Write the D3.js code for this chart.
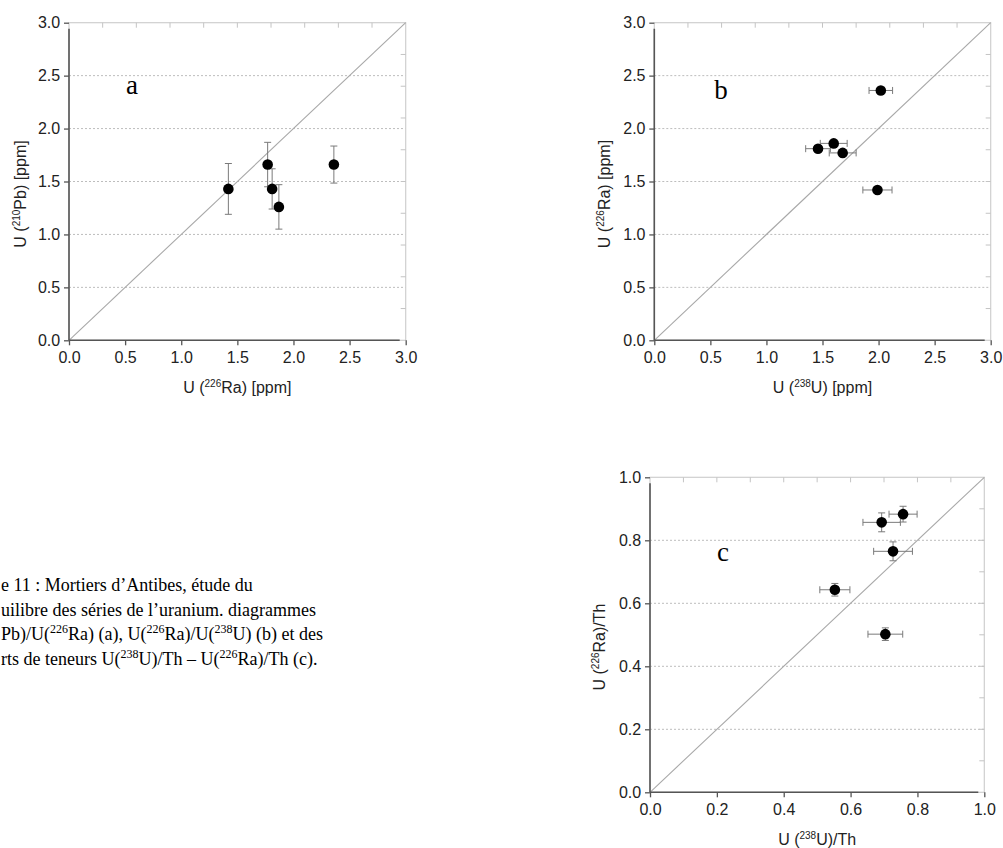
<!DOCTYPE html>
<html><head><meta charset="utf-8">
<script src="https://cdn.jsdelivr.net/npm/d3@7"></script>
<style>
html,body{margin:0;padding:0;background:#fff;overflow:hidden}
svg{display:block}
</style></head>
<body>
<svg id="chart" width="1003" height="848"></svg>
<script>
// ---------- data ----------
// Panel a : U(226Ra) vs U(210Pb), vertical error bars
const aX = [1.42, 1.77, 1.81, 1.87, 2.36];
const aY = [1.43, 1.66, 1.43, 1.26, 1.66];
const aYErr = [0.24, 0.21, 0.19, 0.21, 0.175];
// Panel b : U(238U) vs U(226Ra), horizontal error bars
const bX = [2.02, 1.60, 1.46, 1.68, 1.99];
const bY = [2.36, 1.86, 1.81, 1.77, 1.42];
const bXErr = [0.105, 0.12, 0.11, 0.12, 0.13];
// Panel c : U(238U)/Th vs U(226Ra)/Th, both error bars
const cX = [0.757, 0.693, 0.727, 0.553, 0.704];
const cY = [0.883, 0.857, 0.765, 0.643, 0.502];
const cXErr = [0.042, 0.056, 0.058, 0.045, 0.052];
const cYErr = [0.025, 0.03, 0.03, 0.02, 0.02];
// ticks
const ppmTicks = [0, 0.5, 1.0, 1.5, 2.0, 2.5, 3.0];
const ppmMinorTicks = [0.3, 0.6, 0.9, 1.2, 1.5, 1.8, 2.1, 2.4, 2.7];
const ratioTicks = [0, 0.2, 0.4, 0.6, 0.8, 1.0];
const ratioMinorTicks = [0.1, 0.2, 0.3, 0.4, 0.5, 0.6, 0.7, 0.8, 0.9];
// caption (the part visible in the picture; its left side is cropped in the source)
const captionLines = [
  [["e 11 : Mortiers d\u2019Antibes, \u00e9tude du", false]],
  [["uilibre des s\u00e9ries de l\u2019uranium. diagrammes", false]],
  [["Pb)/U(", false], ["226", true], ["Ra) (a), U(", false], ["226", true], ["Ra)/U(", false], ["238", true], ["U) (b) et des", false]],
  [["rts de teneurs U(", false], ["238", true], ["U)/Th \u2013 U(", false], ["226", true], ["Ra)/Th (c).", false]]
];

const svg = d3.select("#chart");
const sans = "'Liberation Sans', Arial, sans-serif";
const serif = "'Liberation Serif', 'Times New Roman', serif";

function richText(sel, parts, baseSize, supSize) {
  parts.forEach(([t, sup], i) => {
    const ts = sel.append("tspan").text(t);
    if (sup) {
      ts.attr("font-size", supSize).attr("dy", -baseSize * 0.38);
    } else if (i > 0 && parts[i - 1][1]) {
      ts.attr("dy", baseSize * 0.38);
    }
  });
}

function panel(cfg) {
  const x = d3.scaleLinear().domain([0, cfg.max]).range(cfg.xr);
  const y = d3.scaleLinear().domain([0, cfg.max]).range(cfg.yr);
  const g = svg.append("g");
  const [x0, x1] = cfg.xr, [y0, y1] = cfg.yr;

  // grid
  g.selectAll(".grid").data(cfg.ticks.filter(t => t > 0 && t < cfg.max)).join("line")
    .attr("x1", x0).attr("x2", x1).attr("y1", d => y(d)).attr("y2", d => y(d))
    .attr("stroke", "#bdbdbd").attr("stroke-width", 1).attr("stroke-dasharray", "2,2");

  // light frame (top/right)
  g.append("rect").attr("x", x0).attr("y", y1).attr("width", x1 - x0).attr("height", y0 - y1)
    .attr("fill", "none").attr("stroke", "#cfcfcf").attr("stroke-width", 1.2);
  // top / right minor ticks (inward)
  g.selectAll(".tt").data(cfg.minor).join("line")
    .attr("x1", d => x(d)).attr("x2", d => x(d)).attr("y1", y1).attr("y2", y1 + 5)
    .attr("stroke", "#c4c4c4").attr("stroke-width", 1);
  g.selectAll(".rt").data(cfg.minor).join("line")
    .attr("y1", d => y(d)).attr("y2", d => y(d)).attr("x1", x1).attr("x2", x1 - 5)
    .attr("stroke", "#c4c4c4").attr("stroke-width", 1);

  // diagonal 1:1 line
  g.append("line").attr("x1", x(0)).attr("y1", y(0)).attr("x2", x(cfg.max)).attr("y2", y(cfg.max))
    .attr("stroke", "#a8a8a8").attr("stroke-width", 1.1);

  // axes
  const fmt = d3.format(".1f");
  const ax = g.append("g").attr("transform", `translate(0,${y0})`)
    .call(d3.axisBottom(x).tickValues(cfg.ticks).tickFormat(fmt).tickSize(5).tickSizeOuter(0));
  const ay = g.append("g").attr("transform", `translate(${x0},0)`)
    .call(d3.axisLeft(y).tickValues(cfg.ticks).tickFormat(fmt).tickSize(5).tickSizeOuter(0));
  [ax, ay].forEach(a => {
    a.select(".domain").remove();
    a.selectAll(".tick line").attr("stroke", "#555").attr("stroke-width", 1.3);
    a.selectAll(".tick text").attr("font-family", sans).attr("font-size", 16).attr("fill", "#222");
  });
  ax.selectAll(".tick text").attr("dy", "0.95em");
  ay.selectAll(".tick text").attr("dx", "-0.05em");
  // dark axis lines
  g.append("line").attr("x1", x0).attr("x2", x1 - 6).attr("y1", y0).attr("y2", y0)
    .attr("stroke", "#555").attr("stroke-width", 1.6);
  g.append("line").attr("x1", x0).attr("x2", x0).attr("y1", y0).attr("y2", y1 + 6)
    .attr("stroke", "#555").attr("stroke-width", 1.6);

  // error bars
  const n = cfg.xs.length;
  const eb = g.append("g").attr("stroke", "#7a7a7a").attr("stroke-width", 1);
  for (let i = 0; i < n; i++) {
    const px = x(cfg.xs[i]), py = y(cfg.ys[i]);
    if (cfg.yerr) {
      const ya = y(cfg.ys[i] + cfg.yerr[i]), yb = y(cfg.ys[i] - cfg.yerr[i]);
      eb.append("line").attr("x1", px).attr("x2", px).attr("y1", ya).attr("y2", yb);
      [ya, yb].forEach(v => eb.append("line").attr("x1", px - 3.5).attr("x2", px + 3.5).attr("y1", v).attr("y2", v));
    }
    if (cfg.xerr) {
      const xa = x(cfg.xs[i] - cfg.xerr[i]), xb = x(cfg.xs[i] + cfg.xerr[i]);
      eb.append("line").attr("y1", py).attr("y2", py).attr("x1", xa).attr("x2", xb);
      [xa, xb].forEach(v => eb.append("line").attr("y1", py - 3.5).attr("y2", py + 3.5).attr("x1", v).attr("x2", v));
    }
  }
  // points
  g.selectAll(".pt").data(d3.range(n)).join("circle")
    .attr("cx", i => x(cfg.xs[i])).attr("cy", i => y(cfg.ys[i])).attr("r", 5.3).attr("fill", "#000");

  // panel letter
  g.append("text").attr("x", cfg.letterPos[0]).attr("y", cfg.letterPos[1])
    .attr("font-family", serif).attr("font-size", 27).attr("fill", "#000")
    .attr("text-anchor", "middle").text(cfg.letter);

  // axis titles
  const xt = g.append("text").attr("x", (x0 + x1) / 2).attr("y", cfg.xTitleY)
    .attr("text-anchor", "middle").attr("font-family", sans).attr("font-size", 16).attr("fill", "#222");
  richText(xt, cfg.xTitle, 16, 10);
  const yt = g.append("text").attr("transform", `translate(${cfg.yTitlePos[0]},${cfg.yTitlePos[1]}) rotate(-90)`)
    .attr("text-anchor", "middle").attr("font-family", sans).attr("font-size", 16).attr("fill", "#222");
  richText(yt, cfg.yTitle, 16, 10);
}

panel({
  xr: [69, 405.7], yr: [340.3, 22.7], max: 3, ticks: ppmTicks, minor: ppmMinorTicks,
  xs: aX, ys: aY, yerr: aYErr, letter: "a", letterPos: [132, 94],
  xTitle: [["U (", false], ["226", true], ["Ra) [ppm]", false]], xTitleY: 393,
  yTitle: [["U (", false], ["210", true], ["Pb) [ppm]", false]], yTitlePos: [26, 194]
});
panel({
  xr: [654.3, 990.7], yr: [340.3, 22.7], max: 3, ticks: ppmTicks, minor: ppmMinorTicks,
  xs: bX, ys: bY, xerr: bXErr, letter: "b", letterPos: [721, 99],
  xTitle: [["U (", false], ["238", true], ["U) [ppm]", false]], xTitleY: 393,
  yTitle: [["U (", false], ["226", true], ["Ra) [ppm]", false]], yTitlePos: [610, 194]
});
panel({
  xr: [650, 984.3], yr: [792.3, 477.3], max: 1, ticks: ratioTicks, minor: ratioMinorTicks,
  xs: cX, ys: cY, xerr: cXErr, yerr: cYErr, letter: "c", letterPos: [723, 561],
  xTitle: [["U (", false], ["238", true], ["U)/Th", false]], xTitleY: 845,
  yTitle: [["U (", false], ["226", true], ["Ra)/Th", false]], yTitlePos: [605, 647]
});

// caption
const cap = svg.append("g");
captionLines.forEach((parts, i) => {
  const t = cap.append("text").attr("x", 1).attr("y", 591 + i * 24.5)
    .attr("font-family", serif).attr("font-size", 18).attr("fill", "#000");
  richText(t, parts, 18, 12);
});
</script>
</body></html>
